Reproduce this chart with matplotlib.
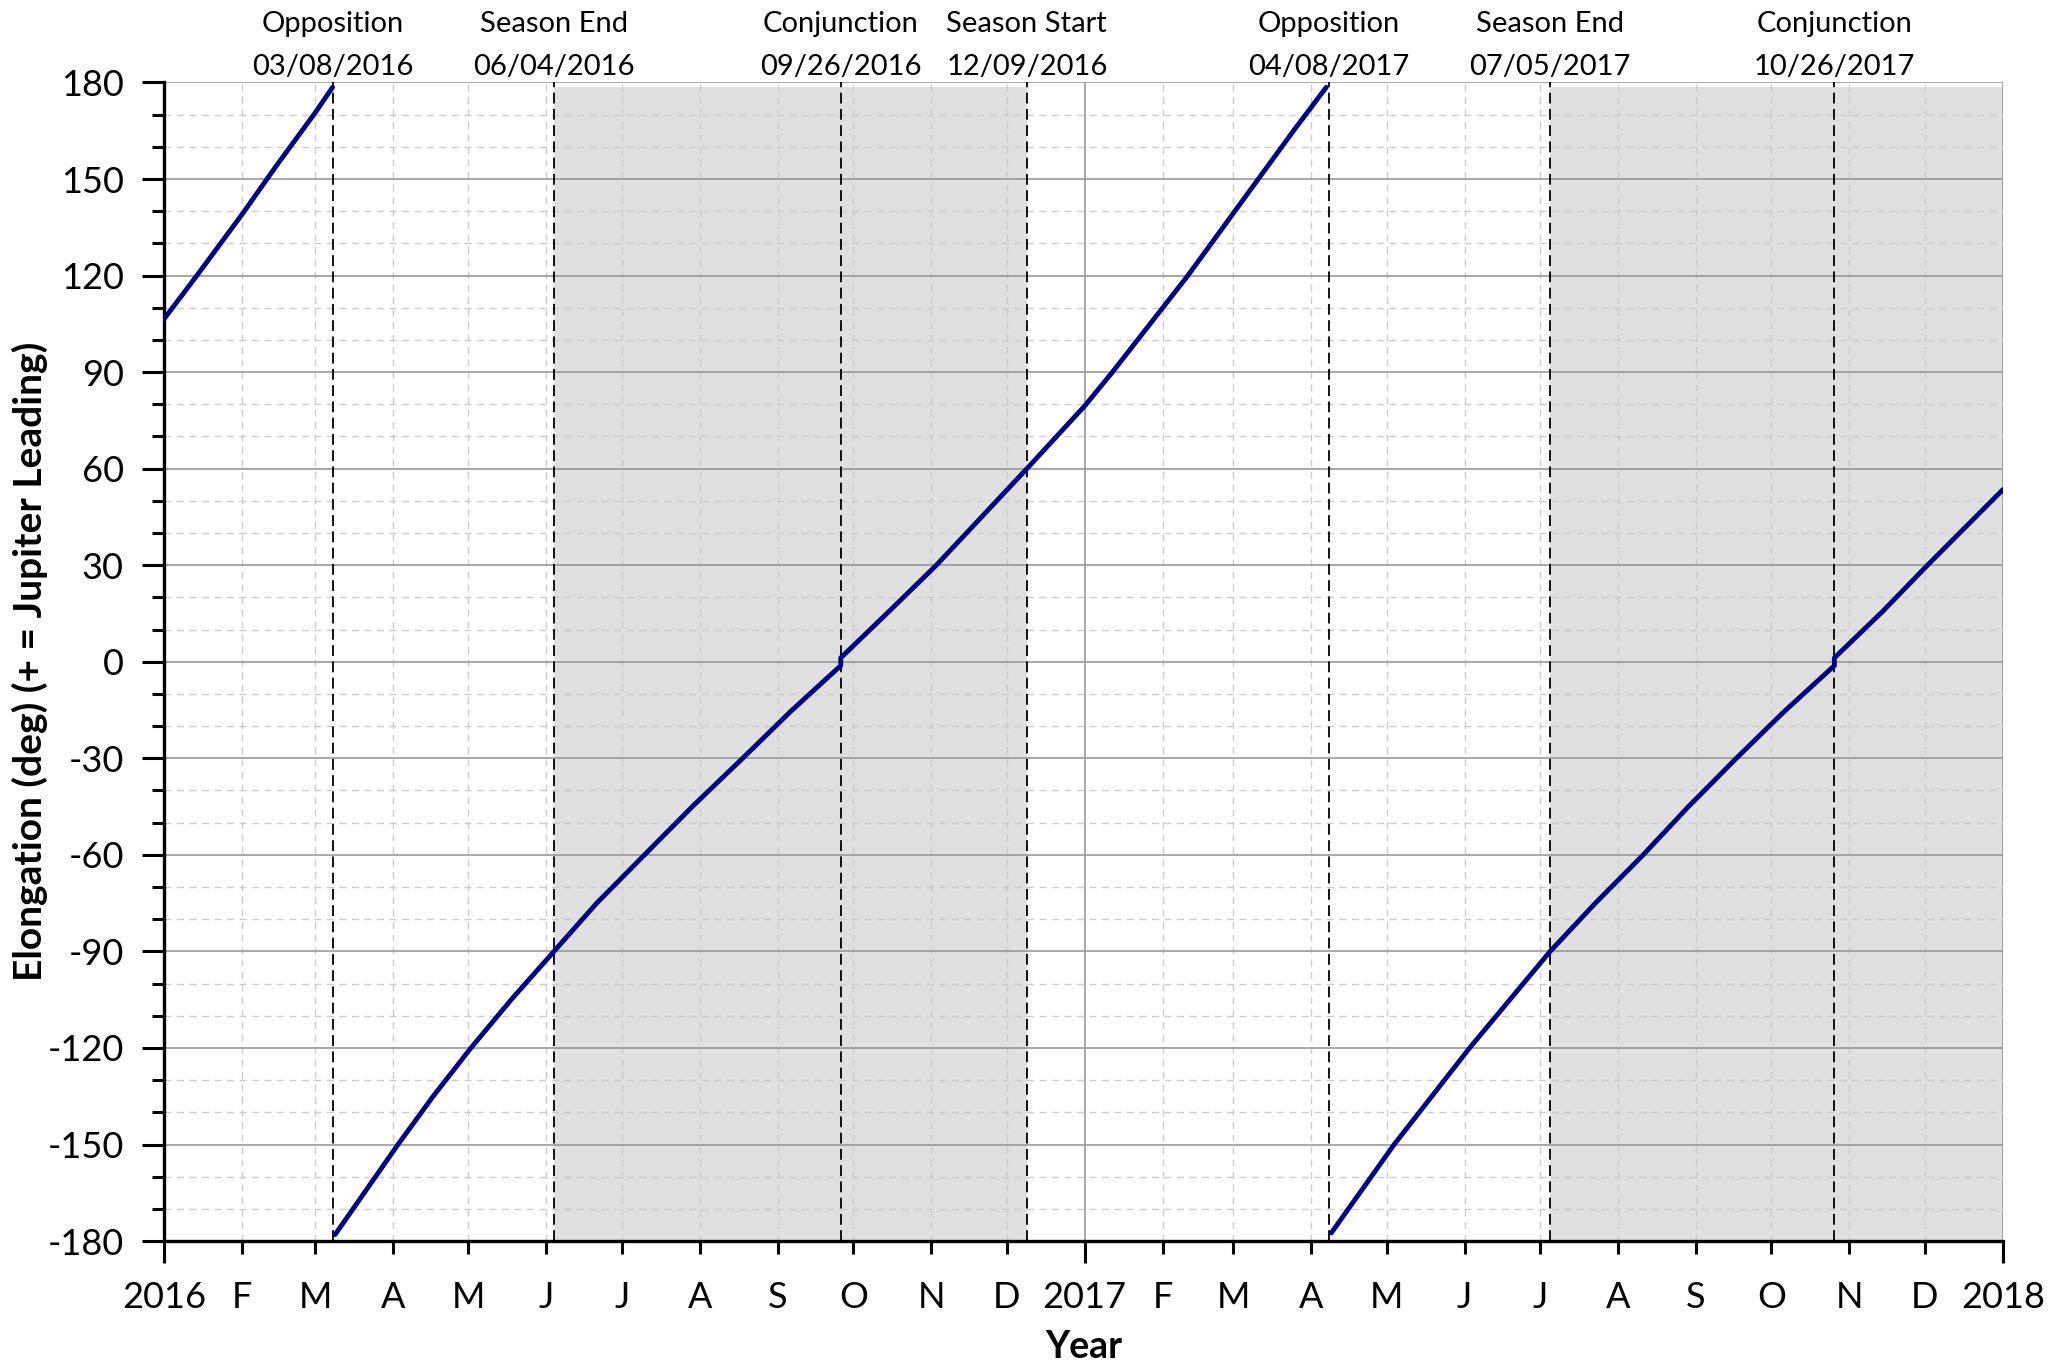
import matplotlib
matplotlib.use('Agg')
import matplotlib.pyplot as plt
import matplotlib.dates as mdates
from matplotlib.ticker import MultipleLocator, FuncFormatter
import pandas as pd

plt.rcParams['font.family'] = ['Lato', 'DejaVu Sans']
plt.rcParams['axes.unicode_minus'] = False

#%% data (elongation in deg, + = Jupiter leading)
seg1_dates = ['2016-01-01', '2016-01-15', '2016-02-01', '2016-02-15', '2016-03-01', '2016-03-08']
seg1_vals = [106.5, 121.0, 139.0, 154.5, 170.5, 178.5]

seg2_dates = ['2016-03-09', '2016-04-03', '2016-04-17', '2016-05-02', '2016-05-18', '2016-06-04',
              '2016-06-21', '2016-07-10', '2016-07-29', '2016-08-18', '2016-09-06', '2016-09-26',
              '2016-09-26', '2016-10-15', '2016-11-03', '2016-11-21', '2016-12-09',
              '2017-01-01', '2017-01-12', '2017-01-27', '2017-02-11', '2017-02-25', '2017-03-11',
              '2017-03-25', '2017-04-07']
seg2_vals = [-178.0, -150.0, -135.0, -120.0, -105.0, -90.0,
             -75.0, -60.0, -45.0, -30.0, -15.5, -1.2,
             1.2, 15.5, 30.0, 45.0, 60.0,
             79.5, 90.0, 105.0, 120.0, 135.0, 150.0,
             165.0, 178.5]

seg3_dates = ['2017-04-09', '2017-05-04', '2017-05-19', '2017-06-03', '2017-06-19', '2017-07-05',
              '2017-07-23', '2017-08-11', '2017-08-29', '2017-09-17', '2017-10-06', '2017-10-26',
              '2017-10-26', '2017-11-14', '2017-12-02', '2018-01-01']
seg3_vals = [-177.5, -150.0, -135.0, -120.0, -105.0, -90.0,
             -75.0, -60.0, -45.0, -30.0, -15.5, -1.2,
             1.2, 15.5, 30.0, 53.5]

event_names = ['Opposition', 'Season End', 'Conjunction', 'Season Start',
               'Opposition', 'Season End', 'Conjunction']
event_dates = ['2016-03-08', '2016-06-04', '2016-09-26', '2016-12-09',
               '2017-04-08', '2017-07-05', '2017-10-26']

# shaded = Jupiter out of season
shade_starts = ['2016-06-04', '2017-07-05']
shade_ends = ['2016-12-09', '2018-01-01']

#%% figure
fig = plt.figure(figsize=(20.53, 13.68), dpi=100)
ax = fig.add_axes([0.0799, 0.0928, 0.8957, 0.8469])

for s, e in zip(shade_starts, shade_ends):
    ax.axvspan(pd.Timestamp(s), pd.Timestamp(e), ymin=0, ymax=0.996,
               color='#e0e0e0', lw=0, zorder=0.1)

for d in event_dates:
    ax.axvline(pd.Timestamp(d), color='black', lw=1.3, ls=(0, (6, 3)), zorder=2)

for dates, vals in [(seg1_dates, seg1_vals), (seg2_dates, seg2_vals), (seg3_dates, seg3_vals)]:
    ax.plot(pd.to_datetime(dates), vals, color='#000080', lw=3.5, zorder=3,
            solid_capstyle='round', solid_joinstyle='round')

for name, d in zip(event_names, event_dates):
    ts = pd.Timestamp(d)
    ax.annotate(name + '\n' + ts.strftime('%m/%d/%Y'), xy=(ts, 1), xycoords=('data', 'axes fraction'),
                xytext=(0, 2), textcoords='offset points', ha='center', va='bottom',
                fontsize=21, linespacing=1.8)

ax.set_xlim(pd.Timestamp('2016-01-01'), pd.Timestamp('2018-01-01'))
ax.set_ylim(-180, 180)

ax.xaxis.set_major_locator(mdates.YearLocator())
ax.xaxis.set_major_formatter(mdates.DateFormatter('%Y'))
ax.xaxis.set_minor_locator(mdates.MonthLocator(bymonth=range(2, 13)))
ax.xaxis.set_minor_formatter(FuncFormatter(lambda x, pos: mdates.num2date(x).strftime('%b')[0]))
ax.yaxis.set_major_locator(MultipleLocator(30))
ax.yaxis.set_minor_locator(MultipleLocator(10))

ax.set_axisbelow(True)
ax.grid(which='major', color='#999999', lw=1.2, ls='-')
ax.grid(which='minor', color='#cccccc', lw=1.0, ls=(0, (5, 4)))

for side in ['top', 'right']:
    ax.spines[side].set_visible(False)
for side in ['left', 'bottom']:
    ax.spines[side].set_linewidth(2.4)

ax.tick_params(which='major', direction='out', length=16, width=2.2, labelsize=26, color='black')
ax.tick_params(which='minor', direction='out', length=9, width=2.2, labelsize=26, color='black')
ax.tick_params(axis='y', which='major', pad=13)
ax.tick_params(axis='x', which='major', pad=13)
ax.tick_params(axis='x', which='minor', pad=20)

ax.set_xlabel('Year', fontsize=27, fontweight='bold', va='top')
ax.xaxis.set_label_coords(0.5, -0.077)
ax.set_ylabel('Elongation (deg) (+ = Jupiter Leading)', fontsize=28, fontweight='bold')
ax.yaxis.set_label_coords(-0.063, 0.5)

plt.savefig('out.png', dpi=100)
